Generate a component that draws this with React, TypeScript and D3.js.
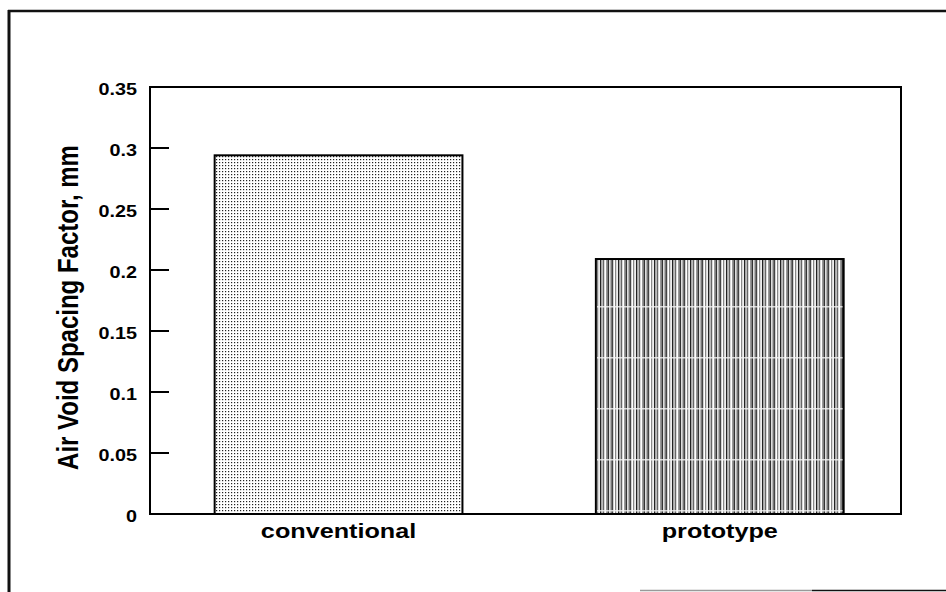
import { useRef, useEffect } from "react";
import * as d3 from "d3";

// chart data
const categories = ["conventional", "prototype"];
const spacingValues = [0.294, 0.209];
const yTicks = [0, 0.05, 0.1, 0.15, 0.2, 0.25, 0.3, 0.35];
const yTickLabels = ["0", "0.05", "0.1", "0.15", "0.2", "0.25", "0.3", "0.35"];
const yAxisTitle = "Air Void Spacing Factor, mm";

const W = 946;
const H = 592;
const FONT = "'Liberation Sans', Arial, Helvetica, sans-serif";
// the scan is a little stretched horizontally
const SX = 1.2;

const App = () => {
  const ref = useRef<SVGSVGElement>(null);

  useEffect(() => {
    if (!ref.current) return;
    const svg = d3.select(ref.current);
    svg.selectAll("*").remove();

    const plot = { left: 150, right: 901, top: 87, bottom: 514 };

    const x = d3
      .scaleBand()
      .domain(categories)
      .range([plot.left, plot.right])
      .paddingInner(0.35)
      .paddingOuter(0.16)
      .align(0.53);

    const y = d3.scaleLinear().domain([0, 0.35]).range([plot.bottom, plot.top]);

    const defs = svg.append("defs");

    // light dotted fill
    const dots = defs
      .append("pattern")
      .attr("id", "dots")
      .attr("patternUnits", "userSpaceOnUse")
      .attr("width", 3)
      .attr("height", 3);
    dots.append("rect").attr("width", 3).attr("height", 3).attr("fill", "#fff");
    dots.append("rect").attr("width", 1.2).attr("height", 1.2).attr("fill", "#222");

    // dark vertical-stripe fill
    const stripeGreys = ["#444", "#fff", "#888", "#eee", "#222", "#bbb", "#666", "#fff", "#999", "#333", "#ddd", "#777"];
    const stripes = defs
      .append("pattern")
      .attr("id", "stripes")
      .attr("patternUnits", "userSpaceOnUse")
      .attr("width", stripeGreys.length * 1.5)
      .attr("height", 51);
    stripeGreys.forEach((c, i) => {
      stripes
        .append("rect")
        .attr("x", i * 1.5)
        .attr("y", 0)
        .attr("width", 1.5)
        .attr("height", 51)
        .attr("fill", c);
    });
    stripes
      .append("rect")
      .attr("x", 0)
      .attr("y", 0)
      .attr("width", stripeGreys.length * 1.5)
      .attr("height", 1.5)
      .attr("fill", "#f4f4f4")
      .attr("opacity", 0.8);

    // outer frame of the scanned figure
    svg
      .append("line")
      .attr("x1", 9)
      .attr("x2", 9)
      .attr("y1", 10)
      .attr("y2", H)
      .attr("stroke", "#111")
      .attr("stroke-width", 3);
    svg
      .append("line")
      .attr("x1", 8)
      .attr("x2", W)
      .attr("y1", 11)
      .attr("y2", 11)
      .attr("stroke", "#111")
      .attr("stroke-width", 2.5);
    svg
      .append("line")
      .attr("x1", 640)
      .attr("x2", 812)
      .attr("y1", 590.5)
      .attr("y2", 590.5)
      .attr("stroke", "#999")
      .attr("stroke-width", 1.5);
    svg
      .append("line")
      .attr("x1", 812)
      .attr("x2", W)
      .attr("y1", 590.5)
      .attr("y2", 590.5)
      .attr("stroke", "#111")
      .attr("stroke-width", 1.5);

    // bars
    const fills = ["url(#dots)", "url(#stripes)"];
    svg
      .selectAll(".bar")
      .data(categories)
      .enter()
      .append("rect")
      .attr("class", "bar")
      .attr("x", (d: string) => x(d)!)
      .attr("y", (_d: string, i: number) => y(spacingValues[i]))
      .attr("width", x.bandwidth())
      .attr("height", (_d: string, i: number) => plot.bottom - y(spacingValues[i]))
      .attr("fill", (_d: string, i: number) => fills[i])
      .attr("stroke", "#000")
      .attr("stroke-width", 2);

    // plot box
    svg
      .append("rect")
      .attr("x", plot.left)
      .attr("y", plot.top)
      .attr("width", plot.right - plot.left)
      .attr("height", plot.bottom - plot.top)
      .attr("fill", "none")
      .attr("stroke", "#000")
      .attr("stroke-width", 2);

    // y ticks (inward) and labels
    const yAxis = svg.append("g");
    yAxis
      .selectAll(".tick")
      .data(yTicks)
      .enter()
      .append("line")
      .attr("x1", plot.left)
      .attr("x2", plot.left + 19)
      .attr("y1", (d: number) => y(d))
      .attr("y2", (d: number) => y(d))
      .attr("stroke", "#000")
      .attr("stroke-width", 2);
    yAxis
      .selectAll(".lbl")
      .data(yTicks)
      .enter()
      .append("text")
      .attr("transform", (d: number) => `translate(137,${y(d) + 8}) scale(${SX},1)`)
      .attr("text-anchor", "end")
      .style("font-family", FONT)
      .style("font-weight", "bold")
      .style("font-size", "16.5px")
      .attr("fill", "#000")
      .text((_d: number, i: number) => yTickLabels[i]);

    // category labels
    svg
      .selectAll(".cat")
      .data(categories)
      .enter()
      .append("text")
      .attr("transform", (d: string) => `translate(${x(d)! + x.bandwidth() / 2},538) scale(${SX},1)`)
      .attr("text-anchor", "middle")
      .style("font-family", FONT)
      .style("font-weight", "bold")
      .style("font-size", "21px")
      .attr("fill", "#000")
      .text((d: string) => d);

    // y axis title
    svg
      .append("text")
      .attr("transform", `translate(78,${(plot.top + plot.bottom) / 2 + 7}) scale(${SX},1) rotate(-90)`)
      .attr("text-anchor", "middle")
      .style("font-family", FONT)
      .style("font-weight", "bold")
      .style("font-size", "24px")
      .attr("fill", "#000")
      .text(yAxisTitle);

    return () => {
      svg.selectAll("*").remove();
    };
  }, []);

  return (
    <svg
      ref={ref}
      width={W}
      height={H}
      style={{ position: "absolute", left: 0, top: 0, background: "#fff" }}
    ></svg>
  );
};

export default App;
